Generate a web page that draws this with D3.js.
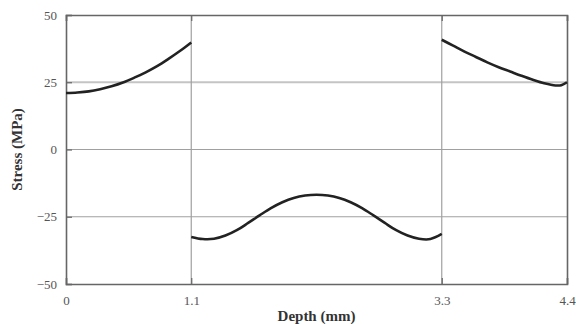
<!DOCTYPE html>
<html>
<head>
<meta charset="utf-8">
<script src="https://cdn.jsdelivr.net/npm/d3@7"></script>
<style>
  body { margin: 0; background: #fff; }
  text { font-family: "Liberation Serif", "DejaVu Serif", serif; }
</style>
</head>
<body>
<div class="chart"></div>
<script>
var svgWidth = 576;
var svgHeight = 324;

var margin = { top: 15, right: 9, bottom: 40, left: 66 };
var width = svgWidth - margin.left - margin.right;
var height = svgHeight - margin.top - margin.bottom;

// tick labels
var xTicks = [0, 1.1, 3.3, 4.4];
var yTicks = [-50, -25, 0, 25, 50];
var yGrid = [-25, 0, 25];
var xGrid = [1.1, 3.3];

// stress profile, one array per layer
var depth1 = [0, 0.1, 0.2, 0.3, 0.4, 0.5, 0.6, 0.7, 0.8, 0.9, 1.0, 1.1];
var stress1 = [21.0, 21.2, 21.6, 22.4, 23.5, 24.9, 26.7, 28.7, 31.0, 33.7, 36.6, 39.8];

var depth2 = [1.1, 1.2, 1.3, 1.4, 1.5, 1.6, 1.7, 1.8, 1.9, 2.0, 2.1, 2.2,
              2.3, 2.4, 2.5, 2.6, 2.7, 2.8, 2.9, 3.0, 3.1, 3.2, 3.3];
var stress2 = [-32.5, -33.3, -33.2, -32.0, -30.0, -27.3, -24.5, -21.8, -19.6, -18.0, -17.1, -16.8,
               -17.1, -18.0, -19.6, -21.8, -24.5, -27.3, -30.0, -32.0, -33.2, -33.3, -31.4];

var depth3 = [3.3, 3.4, 3.5, 3.6, 3.7, 3.8, 3.9, 4.0, 4.1, 4.2, 4.3, 4.35, 4.4];
var stress3 = [40.8, 38.6, 36.4, 34.4, 32.4, 30.6, 29.0, 27.4, 25.9, 24.6, 23.8, 23.9, 25.0];

var svg = d3.select(".chart")
  .append("svg")
  .attr("width", svgWidth)
  .attr("height", svgHeight);

var chartGroup = svg.append("g")
  .attr("transform", `translate(${margin.left}, ${margin.top})`);

var xScale = d3.scaleLinear().domain([0, 4.4]).range([0, width]);
var yScale = d3.scaleLinear().domain([-50, 50]).range([height, 0]);

// grid lines
chartGroup.selectAll(".hgrid")
  .data(yGrid)
  .enter()
  .append("line")
  .attr("x1", 0)
  .attr("x2", width)
  .attr("y1", d => yScale(d))
  .attr("y2", d => yScale(d))
  .attr("stroke", d => d == 25 ? "#c4c4c4" : "#a0a0a0")
  .attr("stroke-width", d => d == 25 ? 2 : 1.2);

chartGroup.selectAll(".vgrid")
  .data(xGrid)
  .enter()
  .append("line")
  .attr("x1", d => xScale(d))
  .attr("x2", d => xScale(d))
  .attr("y1", 0)
  .attr("y2", height)
  .attr("stroke", "#a0a0a0")
  .attr("stroke-width", 1.2);

// axes with inward ticks
var leftAxis = d3.axisLeft(yScale).tickValues(yTicks).tickSize(-6).tickPadding(9);
var bottomAxis = d3.axisBottom(xScale).tickValues(xTicks).tickSize(-6).tickPadding(12)
  .tickFormat(d3.format(".1~f"));
var topAxis = d3.axisTop(xScale).tickValues(xTicks).tickSize(-6).tickFormat("");
var rightAxis = d3.axisRight(yScale).tickValues([]).tickSize(0);

function styleAxis(g) {
  g.select(".domain").attr("stroke", "#666").attr("stroke-width", 1.6);
  g.selectAll(".tick line").attr("stroke", "#666").attr("stroke-width", 1.2);
  g.selectAll(".tick text")
    .attr("fill", "#555")
    .style("font-family", "'Liberation Serif', serif")
    .style("font-size", "13px");
}

chartGroup.append("g").call(leftAxis).call(styleAxis);
chartGroup.append("g").attr("transform", `translate(0, ${height})`).call(bottomAxis).call(styleAxis);
chartGroup.append("g").call(topAxis).call(styleAxis);
chartGroup.append("g").attr("transform", `translate(${width}, 0)`).call(rightAxis).call(styleAxis);

// stress curves
var line = d3.line()
  .x(d => xScale(d[0]))
  .y(d => yScale(d[1]))
  .curve(d3.curveCatmullRom);

[[depth1, stress1], [depth2, stress2], [depth3, stress3]].forEach(function(s) {
  chartGroup.append("path")
    .datum(d3.zip(s[0], s[1]))
    .attr("fill", "none")
    .attr("stroke", "#222")
    .attr("stroke-width", 2.6)
    .attr("d", line);
});

// axis titles
chartGroup.append("text")
  .attr("x", width / 2)
  .attr("y", height + 37)
  .attr("text-anchor", "middle")
  .style("font-size", "15px")
  .style("font-weight", "bold")
  .attr("fill", "#333")
  .text("Depth (mm)");

chartGroup.append("text")
  .attr("transform", "rotate(-90)")
  .attr("x", -height / 2)
  .attr("y", -margin.left + 22)
  .attr("text-anchor", "middle")
  .style("font-size", "15px")
  .style("font-weight", "bold")
  .attr("fill", "#333")
  .text("Stress (MPa)");
</script>
</body>
</html>
